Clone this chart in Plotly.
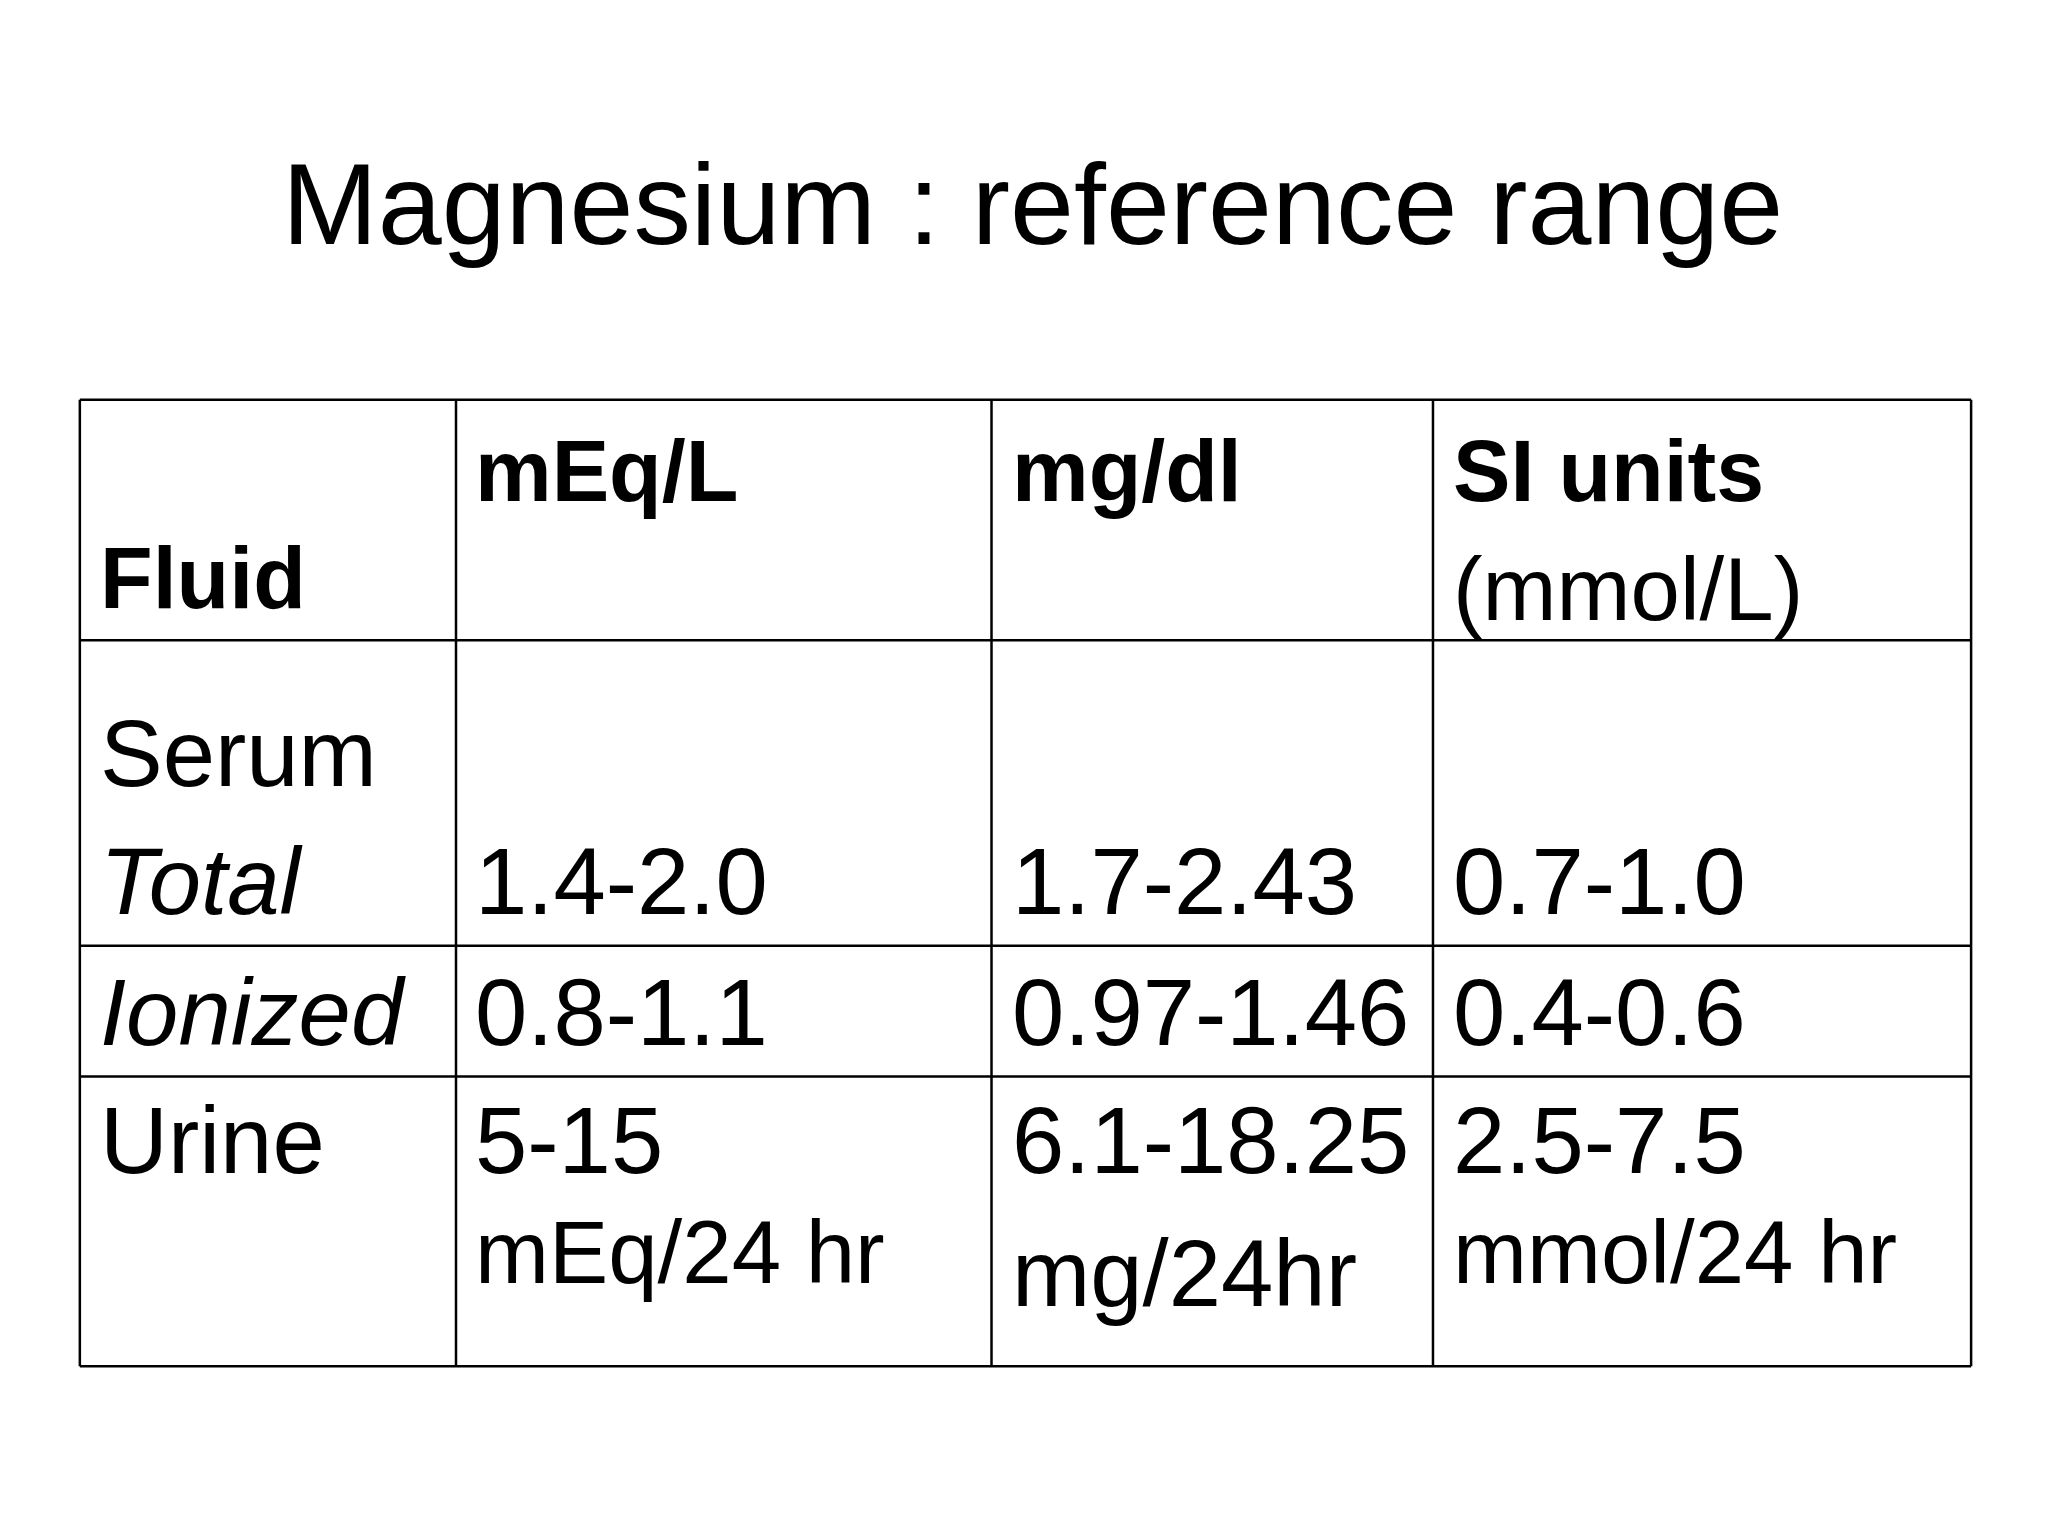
import plotly.graph_objects as go

# reference drawn on a 1568 x 1176 grid, rendered at 2048 x 1536
W, H = 1568, 1176
S = 2048 / W

title = "Magnesium : reference range"
col_lines = [55, 343, 753, 1091, 1503]
row_lines = [300, 484, 718, 818, 1040]

# (text, x_left, baseline, size, bold, italic)
cells = [
    ("Fluid", 73, 460, 66, True, False),
    ("mEq/L", 360, 378, 66, True, False),
    ("mg/dl", 771, 378, 66, True, False),
    ("SI units", 1109, 378, 66, True, False),
    ("(mmol/L)", 1109, 470, 68, False, False),
    ("Serum", 73, 597, 72, False, False),
    ("Total", 73, 695, 72, False, True),
    ("1.4-2.0", 360, 695, 72, False, False),
    ("1.7-2.43", 771, 695, 72, False, False),
    ("0.7-1.0", 1109, 695, 72, False, False),
    ("Ionized", 73, 795, 72, False, True),
    ("0.8-1.1", 360, 795, 72, False, False),
    ("0.97-1.46", 771, 795, 72, False, False),
    ("0.4-0.6", 1109, 795, 72, False, False),
    ("Urine", 73, 893, 72, False, False),
    ("5-15", 360, 893, 72, False, False),
    ("6.1-18.25", 771, 893, 72, False, False),
    ("2.5-7.5", 1109, 893, 72, False, False),
    ("mEq/24 hr", 360, 977, 68, False, False),
    ("mg/24hr", 771, 995, 72, False, False),
    ("mmol/24 hr", 1109, 977, 68, False, False),
]

fig = go.Figure()
shapes = []
for x in col_lines:
    shapes.append(dict(type="line", x0=x, x1=x, y0=row_lines[0], y1=row_lines[-1],
                       line=dict(color="black", width=2.5)))
for y in row_lines:
    shapes.append(dict(type="line", x0=col_lines[0], x1=col_lines[-1], y0=y, y1=y,
                       line=dict(color="black", width=2.5)))

ann = [dict(text=title, x=W / 2, y=150, xanchor="center", yanchor="middle", showarrow=False,
            font=dict(size=88 * S, color="black", family="Liberation Sans, Arial"))]
for text, x, base, size, bold, italic in cells:
    t = text
    if bold:
        t = "<b>" + t + "</b>"
    if italic:
        t = "<i>" + t + "</i>"
    ann.append(dict(text=t, x=x - 4, y=base - 0.36 * size, xanchor="left", yanchor="middle",
                    showarrow=False,
                    font=dict(size=size * S, color="black", family="Liberation Sans, Arial")))

fig.update_layout(
    width=2048, height=1536, margin=dict(l=0, r=0, t=0, b=0),
    paper_bgcolor="white", plot_bgcolor="white",
    xaxis=dict(range=[0, W], visible=False, fixedrange=True),
    yaxis=dict(range=[H, 0], visible=False, fixedrange=True),
    shapes=shapes, annotations=ann, showlegend=False,
)
fig.write_html("out.html")
